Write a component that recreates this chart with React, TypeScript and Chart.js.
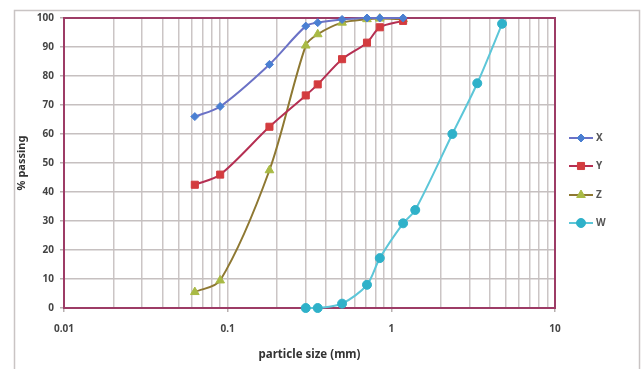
import React, { useEffect, useRef } from "react";
import { Chart, registerables } from "chart.js";

Chart.register(...registerables);

const xSizesXYZ = [0.063, 0.09, 0.18, 0.3, 0.355, 0.5, 0.71, 0.85, 1.18];
const seriesX = [66, 69.5, 84, 97.2, 98.4, 99.5, 100, 100, 100];
const seriesY = [42.5, 46, 62.5, 73.3, 77.1, 85.8, 91.5, 96.8, 99];
const seriesZ = [5.5, 9.5, 47.5, 90.5, 94.4, 98.4, 99.6, 99.8, 99.6];
const xSizesW = [0.3, 0.355, 0.5, 0.71, 0.85, 1.18, 1.4, 2.36, 3.35, 4.75];
const seriesW = [0, 0, 1.5, 8, 17.2, 29.2, 33.8, 60, 77.5, 98];
const seriesNames = ["X", "Y", "Z", "W"];
const xMajorTicks = [0.01, 0.1, 1, 10];
const yTicks = [0, 10, 20, 30, 40, 50, 60, 70, 80, 90, 100];

const styles = [
  { line: "#6b72c6", fill: "#4a7fd2", shape: "rectRot", r: 4 },
  { line: "#b52f52", fill: "#d33c3f", shape: "rect", r: 5 },
  { line: "#8e7832", fill: "#a9ba45", shape: "triangle", r: 5 },
  { line: "#5cc6d8", fill: "#2fb1c9", shape: "circle", r: 4.5 },
];

function pts(xs: number[], ys: number[]) {
  return xs.map((x, i) => ({ x, y: ys[i] }));
}

export default function App() {
  const ref = useRef<HTMLCanvasElement | null>(null);
  useEffect(() => {
    document.body.style.margin = "0";
    const canvas = ref.current!;
    const allData = [
      pts(xSizesXYZ, seriesX),
      pts(xSizesXYZ, seriesY),
      pts(xSizesXYZ, seriesZ),
      pts(xSizesW, seriesW),
    ];
    const datasets = allData.map((d, i) => ({
      label: seriesNames[i],
      data: d,
      showLine: true,
      borderColor: styles[i].line,
      borderWidth: 2,
      backgroundColor: styles[i].fill,
      pointBackgroundColor: styles[i].fill,
      pointBorderColor: styles[i].fill,
      pointBorderWidth: 1,
      pointStyle: styles[i].shape as any,
      pointRadius: styles[i].r,
      tension: 0.3,
      clip: 10,
    }));

    function drawMarker(c: CanvasRenderingContext2D, shape: string, r: number, x: number, y: number) {
      c.beginPath();
      if (shape === "rectRot") {
        c.moveTo(x, y - r);
        c.lineTo(x + r, y);
        c.lineTo(x, y + r);
        c.lineTo(x - r, y);
        c.closePath();
      } else if (shape === "rect") {
        const s = r * Math.SQRT1_2;
        c.rect(x - s, y - s, 2 * s, 2 * s);
      } else if (shape === "triangle") {
        c.moveTo(x, y - r);
        c.lineTo(x + r * 0.866, y + r * 0.5);
        c.lineTo(x - r * 0.866, y + r * 0.5);
        c.closePath();
      } else {
        c.arc(x, y, r, 0, Math.PI * 2);
      }
      c.fill();
      c.stroke();
    }

    const frame = {
      id: "frame",
      beforeDraw(chart: any) {
        const c = chart.ctx;
        c.save();
        c.strokeStyle = "#c9c4c4";
        c.lineWidth = 1.5;
        c.strokeRect(14.5, 10.5, chart.width - 16, chart.height + 10);
        c.restore();
      },
      beforeDatasetsDraw(chart: any) {
        const { left, right, top, bottom } = chart.chartArea;
        const c = chart.ctx;
        c.save();
        c.strokeStyle = "#9d3c66";
        c.lineWidth = 2;
        c.strokeRect(left, top, right - left, bottom - top);
        c.restore();
      },
      afterDraw(chart: any) {
        const c = chart.ctx;
        c.save();
        const ys = [138, 166, 195, 223];
        chart.data.datasets.forEach((ds: any, i: number) => {
          const y = ys[i];
          c.strokeStyle = ds.borderColor;
          c.lineWidth = 2;
          c.beginPath();
          c.moveTo(569, y);
          c.lineTo(593, y);
          c.stroke();
          c.fillStyle = ds.pointBackgroundColor;
          c.strokeStyle = ds.pointBorderColor;
          c.lineWidth = 1;
          drawMarker(c, styles[i].shape, styles[i].r, 581, y);
          c.fillStyle = "#555";
          c.font = "bold 10px 'Noto Sans'";
          c.textBaseline = "middle";
          c.textAlign = "left";
          c.fillText(ds.label, 596, y + 0.5);
        });
        c.restore();
      },
    };

    const chart = new Chart(canvas, {
      type: "scatter",
      data: { datasets: datasets as any },
      plugins: [frame],
      options: {
        animation: false,
        responsive: false,
        layout: { padding: { left: 0, top: 18, right: 86, bottom: 0 } },
        plugins: { legend: { display: false }, tooltip: { enabled: false } },
        scales: {
          x: {
            type: "logarithmic",
            min: 0.01,
            max: 10,
            afterBuildTicks(scale: any) {
              const t: any[] = [];
              for (let e = 0; e < xMajorTicks.length; e++) {
                const base = xMajorTicks[e];
                const lim = e === xMajorTicks.length - 1 ? 1 : 9;
                for (let m = 1; m <= lim; m++) {
                  t.push({ value: +(base * m).toPrecision(6), major: m === 1 });
                }
              }
              scale.ticks = t;
            },
            afterFit(scale: any) {
              scale.height = 61;
            },
            ticks: {
              autoSkip: false,
              maxRotation: 0,
              padding: 11,
              color: "#444",
              font: { family: "'Noto Sans'", size: 10, weight: "bold" },
              callback(v: any) {
                const val = Number(v);
                return xMajorTicks.some((m) => Math.abs(m - val) / m < 1e-6) ? String(val) : "";
              },
            },
            grid: {
              color: "#cbc5c5",
              lineWidth: 1.5,
              tickLength: 4,
              tickColor: (ctx: any) => (ctx.tick && ctx.tick.major ? "#b8b0b0" : "rgba(0,0,0,0)"),
            },
            border: { color: "#9d3c66", width: 2 },
            title: {
              display: true,
              text: "particle size (mm)",
              color: "#333",
              font: { family: "'Noto Sans'", size: 11.5, weight: "bold" },
              padding: { top: 0, bottom: 7 },
            },
          },
          y: {
            min: 0,
            max: 100,
            afterBuildTicks(scale: any) {
              scale.ticks = yTicks.map((v) => ({ value: v }));
            },
            afterFit(scale: any) {
              scale.width = 64;
            },
            ticks: {
              padding: 6,
              color: "#444",
              font: { family: "'Noto Sans'", size: 10, weight: "bold" },
            },
            grid: {
              color: "#c6c0c0",
              lineWidth: 1.5,
              tickLength: 4,
              tickColor: "#b8b0b0",
            },
            border: { color: "#9d3c66", width: 2 },
            title: {
              display: true,
              text: "% passing",
              color: "#333",
              font: { family: "'Noto Sans'", size: 11, weight: "bold" },
              padding: { top: 15, bottom: 0 },
            },
          },
        },
      },
    });
    return () => chart.destroy();
  }, []);
  return (
    <div style={{ width: 641, height: 369, background: "#fff" }}>
      <canvas ref={ref} width={641} height={369} style={{ display: "block" }} />
    </div>
  );
}
